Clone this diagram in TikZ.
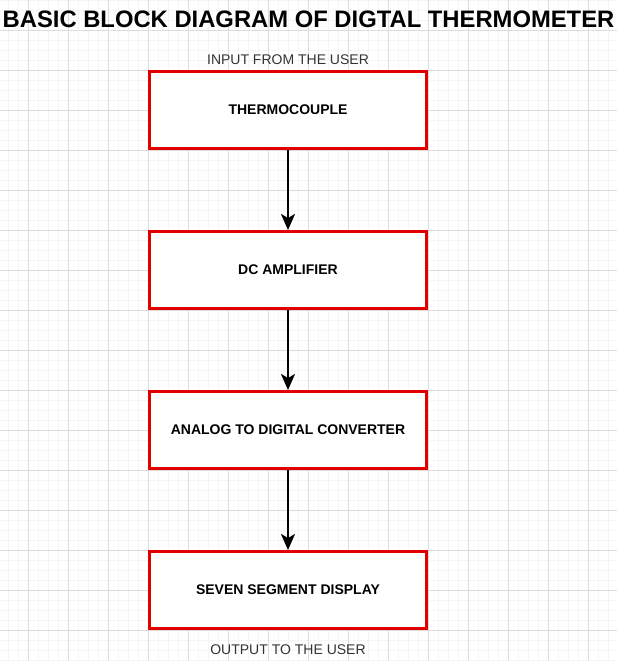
\documentclass[tikz,border=0pt]{standalone}
\usepackage{fontspec}
\setmainfont{Liberation Sans}
\usetikzlibrary{arrows.meta}
\definecolor{gridminor}{RGB}{245,245,245}
\definecolor{gridmajor}{RGB}{220,220,220}
\definecolor{boxred}{RGB}{224,0,0}
\definecolor{labelgray}{RGB}{51,51,51}
\tikzset{
  blockbox/.style={draw=boxred, line width=3pt, fill=white, minimum width=277pt, minimum height=77pt, inner sep=0pt,
    font=\fontsize{14}{16}\selectfont\bfseries, text=black},
  flowarrow/.style={draw=black, line width=2pt, -{Stealth[length=16pt,width=14pt,inset=4pt]}},
  iolabel/.style={font=\fontsize{14}{16}\selectfont, text=labelgray, inner sep=0pt},
  titletext/.style={font=\fontsize{23.8}{28}\selectfont\bfseries, text=black, inner sep=0pt}
}
\begin{document}
\begin{tikzpicture}[x=1pt,y=-1pt]
\useasboundingbox (0,0) rectangle (617,661);
\fill[white] (0,0) rectangle (617,661);
% minor grid
\foreach \gx in {8,18,...,617} \draw[gridminor, line width=0.8pt] (\gx,0) -- (\gx,661);
\foreach \gy in {0,10,...,661} \draw[gridminor, line width=0.8pt] (0,\gy) -- (617,\gy);
% major grid
\foreach \gx in {28,68,...,617} \draw[gridmajor, line width=0.8pt] (\gx,0) -- (\gx,661);
\foreach \gy in {30,70,...,661} \draw[gridmajor, line width=0.8pt] (0,\gy) -- (617,\gy);

\node[titletext] (title) at (308.5,19) {BASIC BLOCK DIAGRAM OF DIGTAL THERMOMETER};
\node[iolabel] (inlabel) at (288,60) {INPUT FROM THE USER};
\node[blockbox] (b1) at (288,110) {THERMOCOUPLE};
\node[blockbox] (b2) at (288,270) {DC AMPLIFIER};
\node[blockbox] (b3) at (288,430) {ANALOG TO DIGITAL CONVERTER};
\node[blockbox] (b4) at (288,590) {SEVEN SEGMENT DISPLAY};
\node[iolabel] (outlabel) at (288,650) {OUTPUT TO THE USER};

\draw[flowarrow] (b1.south) -- (b2.north);
\draw[flowarrow] (b2.south) -- (b3.north);
\draw[flowarrow] (b3.south) -- (b4.north);
\end{tikzpicture}
\end{document}
